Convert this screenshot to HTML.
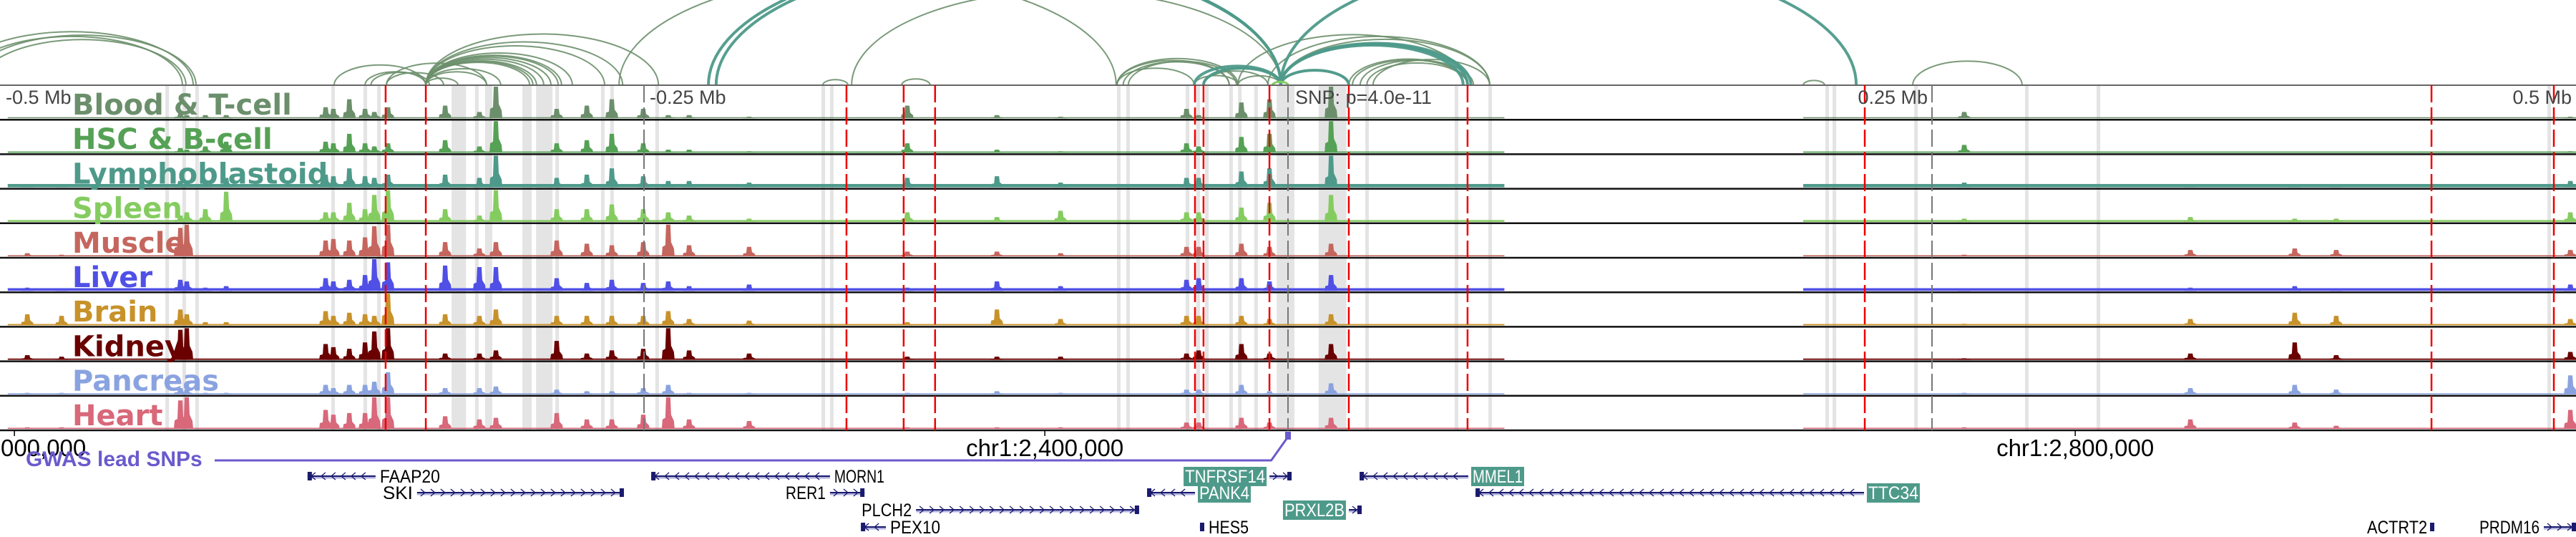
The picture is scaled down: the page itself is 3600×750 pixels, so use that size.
<!DOCTYPE html>
<html><head><meta charset="utf-8">
<style>
html,body{margin:0;padding:0;background:#fff;}
svg{display:block;}
text{font-family:"Liberation Sans",sans-serif;}
.tl{font-family:"DejaVu Sans","Liberation Sans",sans-serif;font-weight:bold;font-size:40px;}
</style></head>
<body>
<svg id="chart" width="3600" height="750" viewBox="0 0 3600 750" xmlns="http://www.w3.org/2000/svg">
<g id="bands"></g>
<g id="arcs"></g>
<g id="tracks"></g>
<g id="vlines"></g>
<g id="labels"></g>
<g id="axis"></g>
<g id="genes"></g>
</svg>
<script>
// ---- data (positions in kb from window start; window = 1000 kb) ----
const trackNames = ["Blood & T-cell","HSC & B-cell","Lymphoblastoid","Spleen","Muscle","Liver","Brain","Kidney","Pancreas","Heart"];
const trackColors = ["#6b8f6b","#55a155","#4e9a8a","#85cc60","#c5665e","#5050e6","#c8922a","#6a0000","#8aa3e0","#d8687a"];
const baseLevels = [0.04,0.06,0.15,0.08,0.05,0.12,0.06,0.06,0.05,0.05];
const coverage = [[3,584],[700,1000]];
const peakPos = [10.6,23.9,70,72.5,79.7,87.8,126.4,129.4,135.6,141.7,145.3,150.6,172.8,186.1,192.5,216.1,227.8,237.5,249.7,259.4,267.5,290.8,352.2,387,411.7,460.6,465.3,481.9,492.8,516.7,762.5,850.3,890.8,906.9,997.8];
const hBlood = [0,0,.15,.1,.1,.1,.35,.3,.6,.3,.2,.35,.4,.2,1,.3,.4,.6,.3,.1,.1,.05,.4,.1,.05,.3,.1,.5,.6,1,.2,0,0,0,.05];
const hHSC = [0,0,.15,.1,.2,.35,.35,.3,.6,.3,.2,.3,.4,.2,1,.3,.4,.6,.3,.1,.1,.05,.3,.1,.05,.3,.2,.5,.6,1,.25,0,0,0,.05];
const hLymph = [.1,.1,.2,.2,.2,.3,.4,.35,.6,.35,.3,.4,.4,.3,1,.3,.4,.6,.35,.2,.2,.15,.3,.35,.15,.3,.3,.5,.6,1,.15,.1,.1,.1,.2];
const hSpleen = [0,0,.2,.3,.4,.95,.3,.3,.6,.4,.85,1,.4,.2,1,.4,.4,.55,.4,.3,.2,.1,.3,.15,.35,.3,.3,.45,.6,.85,.1,.15,.1,.1,.3];
const hMuscle = [.1,.05,.9,1,0,0,.5,.55,.5,.6,.95,1,.45,.25,.45,.5,.4,.35,.45,1,.35,.3,.15,.15,.1,.3,.3,.4,.3,.4,.05,.2,.25,.2,.2];
const hLiver = [.1,.05,.35,.3,.1,.15,.4,.3,.35,.5,1,.9,.8,.75,.75,.4,.25,.35,.25,.3,.15,.2,.1,.3,.15,.35,.4,.4,.3,.5,.05,.1,.15,.05,.2];
const hBrain = [.35,.3,.5,.35,.1,.1,.45,.3,.4,.35,.3,1,.35,.3,.5,.3,.3,.3,.3,.45,.2,.15,.1,.5,.2,.3,.3,.3,.2,.35,.05,.2,.4,.3,.2];
const hKidney = [.15,.1,.95,1,0,0,.5,.4,.35,.55,.9,1,.2,.2,.3,.6,.2,.3,.35,1,.3,.2,.1,.1,.1,.2,.3,.5,.2,.5,.05,.2,.55,.15,.25];
const hPancreas = [.05,.05,.2,.15,.05,.05,.3,.2,.3,.3,.4,.7,.2,.2,.25,.15,.1,.1,.2,.3,.05,.05,.05,.1,.05,.15,.15,.3,.1,.35,.05,.2,.3,.15,.6];
const hHeart = [.05,.05,.9,1,0,0,.6,.45,.5,.5,1,1,.4,.3,.35,.5,.3,.3,.45,1,.3,.25,.05,.05,.05,.2,.2,.35,.2,.35,.05,.3,.2,.1,.6];
const bandStarts = [64.2,70.8,75.8,128.6,141.1,146.4,175.3,184.4,188.3,202.8,208.1,215.6,233.3,236.9,254.4,318.9,322.2,433.6,437.2,460.3,464.4,467.8,477.2,480.6,486.9,495.6,511.9,530,564.7,577.8,708.6,711.4,743.1,786.1,813.9,988.9];
const bandWidths = [1.4,1.4,1.4,1.4,1.4,1.4,5.6,1.4,2.8,3.6,6.4,1.4,1.4,1.4,1.4,1.4,1.4,1.4,1.4,1.4,1.4,1.4,1.4,1.4,1.4,6.9,10.8,1.4,1.4,1.4,1.4,1.4,1.4,1.4,1.4,1.4];
const redLines = [149.7,165.3,328.6,350.8,363,463.9,467.2,492.8,523.6,569.7,723.9,943.9,991.4];
const grayLines = [250,500,750];
const arcsOlive = [[-12.2,76.1],[-15.3,70.8],[-8.3,72.2],[-19.4,75],[129.7,165.3],[141.7,165.3],[144,166.7],[150,172.2],[150,188.9],[165.3,177.8],[165.3,188.9],[165.3,194.4],[165.3,205.6],[165.3,206.9],[165.3,208.3],[165.3,211.1],[165.3,213.9],[165.3,216.7],[165.3,218],[165.3,222.2],[165.3,234.7],[165.3,241.7],[165.3,255.6],[240.3,433.3],[319.4,329.2],[350,361.1],[433.6,463.6],[433.6,477.2],[433.6,480.6],[436,477.2],[438,480],[463.6,480.6],[467.2,492.2],[480.6,497.2],[467.2,497.2],[330.6,497.2],[480.6,569.7],[492.2,578.3],[497.2,578.3],[530.6,569.7],[525,569.7],[523.6,569.7],[528,572],[533,578.3],[497.2,523.6],[700,708.3],[742.5,785]];
const arcsTeal = [[463.6,497.2],[467.2,497.2],[497.2,523.6],[497.2,569.7],[497.2,568],[497.2,571],[497.2,720.6],[275,497.2],[278,497.2]];
const arcsSpleen = [[494,500]];
const relTickPos = [0,250,500,750,1000];
const relTickLabels = ["-0.5 Mb","-0.25 Mb","SNP: p=4.0e-11","0.25 Mb","0.5 Mb"];
const chrTickPos = [5.6,405.6,805.6];
const chrTickLabels = ["chr1:2,000,000","chr1:2,400,000","chr1:2,800,000"];
const geneNames = ["FAAP20","SKI","MORN1","RER1","PLCH2","PEX10","TNFRSF14","PANK4","PRXL2B","HES5","MMEL1","TTC34","ACTRT2","PRDM16"];
const geneStart = [119.4,161.9,252.8,322.2,355.6,334.2,492.8,445.3,523.6,465.8,527.8,572.8,943.9,987.5];
const geneEnd = [145.8,242.2,322.2,335.6,442.2,343.9,501.4,463.9,528.6,467.5,570,723.6,945,1000];
const geneStrand = [-1,1,-1,1,1,-1,1,-1,1,1,-1,-1,1,1];
const geneRow = [0,1,0,1,2,3,0,1,2,3,0,1,3,3];
const geneLabelSide = ["R","L","R","L","L","R","L","R","L","R","R","R","L","L"];
const geneBoxed = [0,0,0,0,0,0,1,1,1,0,1,1,0,0];

// ---- scales ----
const NS="http://www.w3.org/2000/svg";
const W=3600, TOP=119, TH=48.2, NT=10, BOT=TOP+TH*NT;
const x = kb => kb*W/1000;
const trackY = i => TOP+i*TH;
const allH=[hBlood,hHSC,hLymph,hSpleen,hMuscle,hLiver,hBrain,hKidney,hPancreas,hHeart];
function mk(tag,attrs,parent){const e=document.createElementNS(NS,tag);for(const k in attrs)e.setAttribute(k,attrs[k]);parent.appendChild(e);return e;}

// bands
const gB=document.getElementById('bands');
bandStarts.forEach((s,i)=>{
  const r=mk('rect',{x:x(s),y:TOP,width:x(bandWidths[i]),height:BOT-TOP,fill:'#e4e4e4'},gB);
  
  
});

// arcs
const gA=document.getElementById('arcs');
function arc(a,b,color,w,op){
  const x1=x(a),x2=x(b),r=(x2-x1)/2,h=0.22*(x2-x1);
  const p=mk('path',{d:`M${x1},${TOP} A${r},${h} 0 0 1 ${x2},${TOP}`,fill:'none',stroke:color,'stroke-width':w,opacity:op},gA);
  
  
}
arcsOlive.forEach(d=>arc(d[0],d[1],'#6b8f6b',2,0.9));
arcsTeal.forEach(d=>arc(d[0],d[1],'#4e9a8a',4,0.95));
arcsSpleen.forEach(d=>arc(d[0],d[1],'#85cc60',3,1));

// tracks
const gT=document.getElementById('tracks');
for(let i=0;i<NT;i++){
  const g=mk('g',{},gT);
  
  
  const yb=trackY(i)+TH-2, hmax=TH-4, c=trackColors[i];
  coverage.forEach(cv=>{
    const bh=Math.max(1.5,baseLevels[i]*hmax*0.7);
    const r=mk('rect',{x:x(cv[0]),y:yb-bh,width:x(cv[1]-cv[0]),height:bh,fill:c},g);
    
    
  });
  peakPos.forEach((p,j)=>{
    const v=allH[i][j]; if(v<=0)return;
    const px=x(p), ph=v*hmax;
    const poly=mk('polygon',{points:`${px-9},${yb} ${px-8},${yb-ph*0.3} ${px-4},${yb-ph*0.35} ${px-3},${yb-ph} ${px+3},${yb-ph} ${px+4},${yb-ph*0.45} ${px+8},${yb-ph*0.25} ${px+9},${yb}`,fill:c},g);
    
    
  });
}
// separators
for(let i=0;i<=NT;i++){
  const y=trackY(i);
  const l=mk('line',{x1:0,x2:W,y1:y,y2:y,stroke:i==0?'#666':'#111','stroke-width':i==0?2:2.5},gT);
  
  
}

// vertical lines
const gV=document.getElementById('vlines');
grayLines.forEach(p=>{
  const l=mk('line',{x1:x(p),x2:x(p),y1:TOP,y2:BOT,stroke:'#777','stroke-width':2,'stroke-dasharray':'24 7'},gV);
  
  
});
redLines.forEach(p=>{
  const l=mk('line',{x1:x(p),x2:x(p),y1:TOP,y2:BOT,stroke:'#ee0000','stroke-width':2.5,'stroke-dasharray':'24 7'},gV);
  
  
});

// labels
const gL=document.getElementById('labels');
trackNames.forEach((n,i)=>{
  const t=mk('text',{x:101,y:trackY(i)+41,fill:trackColors[i],class:'tl'},gL);
  t.textContent=n;
  
  
});
relTickPos.forEach((p,i)=>{
  let px=x(p)+8, anchor='start';
  if(p==1000){px=x(p)-6;anchor='end';}
  if(p==750){px=x(p)-6;anchor='end';}
  if(p==500){px=x(p)+10;}
  const t=mk('text',{x:px,y:145,'font-size':27,fill:'#444','text-anchor':anchor},gL);
  t.textContent=relTickLabels[i];
  
  
});

// axis
const gX=document.getElementById('axis');
chrTickPos.forEach((p,i)=>{
  const l=mk('line',{x1:x(p),x2:x(p),y1:BOT,y2:BOT+8,stroke:'#000','stroke-width':1.5},gX);
  
  
  const t=mk('text',{x:x(p)-(i==0?10:0),y:637,'font-size':33,fill:'#000','text-anchor':'middle'},gX);
  t.textContent=chrTickLabels[i];
  
  
});
// GWAS lead SNP
const gw=mk('polyline',{points:`300,643 ${x(493.5)},643 ${x(500)},610`,fill:'none',stroke:'#6a5acd','stroke-width':3},gX);


const sq=mk('rect',{x:x(500)-4,y:603,width:8,height:11,fill:'#6a5acd'},gX);


const gt=mk('text',{x:36,y:651,'font-size':30,fill:'#6a5acd','font-weight':'bold','font-family':'DejaVu Sans, sans-serif'},gX);
gt.textContent='GWAS lead SNPs';



// genes
const gG=document.getElementById('genes');
const rowY=[665,688,712,736];
geneNames.forEach((n,i)=>{
  const g=mk('g',{},gG);
  
  
  const x1=x(geneStart[i]),x2=Math.min(W,x(geneEnd[i])),y=rowY[geneRow[i]];
  mk('line',{x1:x1,x2:x2,y1:y+2,y2:y+2,stroke:'#b0b0dd','stroke-width':3},g);
  mk('line',{x1:x1,x2:x2,y1:y,y2:y,stroke:'#1a1a6e','stroke-width':2},g);
  for(let cx=x1+8;cx<x2-4;cx+=14){
    const d=geneStrand[i]>0?`M${cx-3},${y-5} L${cx+3},${y} L${cx-3},${y+5}`:`M${cx+3},${y-5} L${cx-3},${y} L${cx+3},${y+5}`;
    mk('path',{d:d,fill:'none',stroke:'#1a1a6e','stroke-width':1.3},g);
  }
  mk('rect',{x:geneStrand[i]>0?x2-6:x1,y:y-6,width:6,height:12,fill:'#1a1a6e'},g);
  const fs=25;
  const left=geneLabelSide[i]=='L';
  const tx=left?x1-4:x2+4;
  const box=geneBoxed[i]?mk('rect',{y:y-13,height:27,fill:'#4e9a8a'},g):null;
  const t=mk('text',{x:left?tx-2:tx+2,y:y+9,'font-size':fs,fill:geneBoxed[i]?'#fff':'#000','text-anchor':left?'end':'start',textLength:n.length*fs*0.56,lengthAdjust:'spacingAndGlyphs'},g);
  t.textContent=n;
  if(box){const tw=n.length*fs*0.56+4;box.setAttribute('x',left?tx-tw:tx);box.setAttribute('width',tw);}
});
</script>
</body></html>
